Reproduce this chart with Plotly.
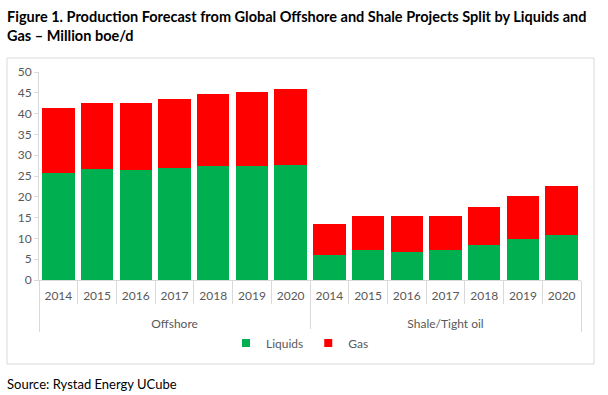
import plotly.graph_objects as go

groups = ["Offshore"] * 7 + ["Shale/Tight oil"] * 7
years = ["2014", "2015", "2016", "2017", "2018", "2019", "2020"] * 2
liquids = [25.7, 26.7, 26.4, 26.9, 27.4, 27.4, 27.7,
           6.1, 7.1, 6.8, 7.1, 8.4, 9.8, 10.9]
gas = [15.7, 15.9, 16.2, 16.7, 17.2, 17.9, 18.3,
       7.3, 8.2, 8.5, 8.4, 9.1, 10.3, 11.6]
y_ticks = [0, 5, 10, 15, 20, 25, 30, 35, 40, 45, 50]

FONT = "Lato"
GRID = "#d9d9d9"
TXT = "#595959"
GREEN = "#00B050"
RED = "#FF0000"

# group labels pushed one line lower to mimic the spreadsheet's two-row axis
group_labels = ["<br>" + g for g in groups]

fig = go.Figure()
fig.add_trace(go.Bar(x=[group_labels, years], y=liquids, name="Liquids",
                     marker=dict(color=GREEN, line=dict(width=0)),
                     showlegend=False))
fig.add_trace(go.Bar(x=[group_labels, years], y=gas, name="Gas",
                     marker=dict(color=RED, line=dict(width=0)),
                     showlegend=False))
for nm, col in (("Liquids", GREEN), ("Gas", RED)):
    fig.add_trace(go.Scatter(x=[[group_labels[0]], [years[0]]], y=[None],
                             mode="markers", name=nm,
                             marker=dict(symbol="square", size=8, color=col)))

W, H = 608, 395
L, R, T, B = 39, 27, 72, 115
pw, ph = W - L - R, H - T - B

def px(x):
    return (x - L) / pw

def py(y):
    return (H - B - y) / ph

fig.update_layout(
    width=W, height=H,
    margin=dict(l=L, r=R, t=T, b=B, autoexpand=False),
    barmode="stack", bargap=0.165,
    paper_bgcolor="white", plot_bgcolor="white",
    font=dict(family=FONT, size=12, color=TXT),
    showlegend=True,
    legend=dict(orientation="h", x=px(300), xanchor="center",
                y=py(343), yanchor="middle", font=dict(size=12, color=TXT),
                itemwidth=30, traceorder="normal"),
    xaxis=dict(type="multicategory", showline=True, linecolor=GRID,
               range=[-0.5, len(years) - 0.5],
               ticks="outside", tickson="boundaries", ticklen=23,
               tickcolor=GRID, showdividers=True, dividercolor=GRID,
               dividerwidth=1, tickfont=dict(size=12, color=TXT),
               ticklabelstandoff=5, automargin=False),
    yaxis=dict(range=[0, 50], tickvals=y_ticks, showgrid=False,
               showline=True, linecolor=GRID, ticks="outside", ticklen=4,
               tickcolor=GRID, zeroline=False, automargin=False,
               tickfont=dict(size=12, color=TXT)),
    shapes=[dict(type="rect", xref="paper", yref="paper",
                 x0=px(7), x1=px(594), y0=py(364), y1=py(58),
                 line=dict(color=GRID, width=1), fillcolor="rgba(0,0,0,0)",
                 layer="below")],
    annotations=[
        dict(text="<b>Figure 1. Production Forecast from Global Offshore and Shale Projects Split by Liquids and<br>Gas \u2013 Million boe/d</b>",
             xref="paper", yref="paper", x=px(5), y=py(6), xanchor="left",
             yanchor="top", align="left", showarrow=False,
             font=dict(family=FONT, size=14.5, color="black")),
        dict(text="Source: Rystad Energy UCube", xref="paper", yref="paper",
             x=px(5), y=py(384), xanchor="left", yanchor="middle",
             showarrow=False, font=dict(family=FONT, size=13, color="black")),
    ],
)

fig.write_html("out.html", config={"displayModeBar": False},
               post_script="document.body.style.margin='0';")
